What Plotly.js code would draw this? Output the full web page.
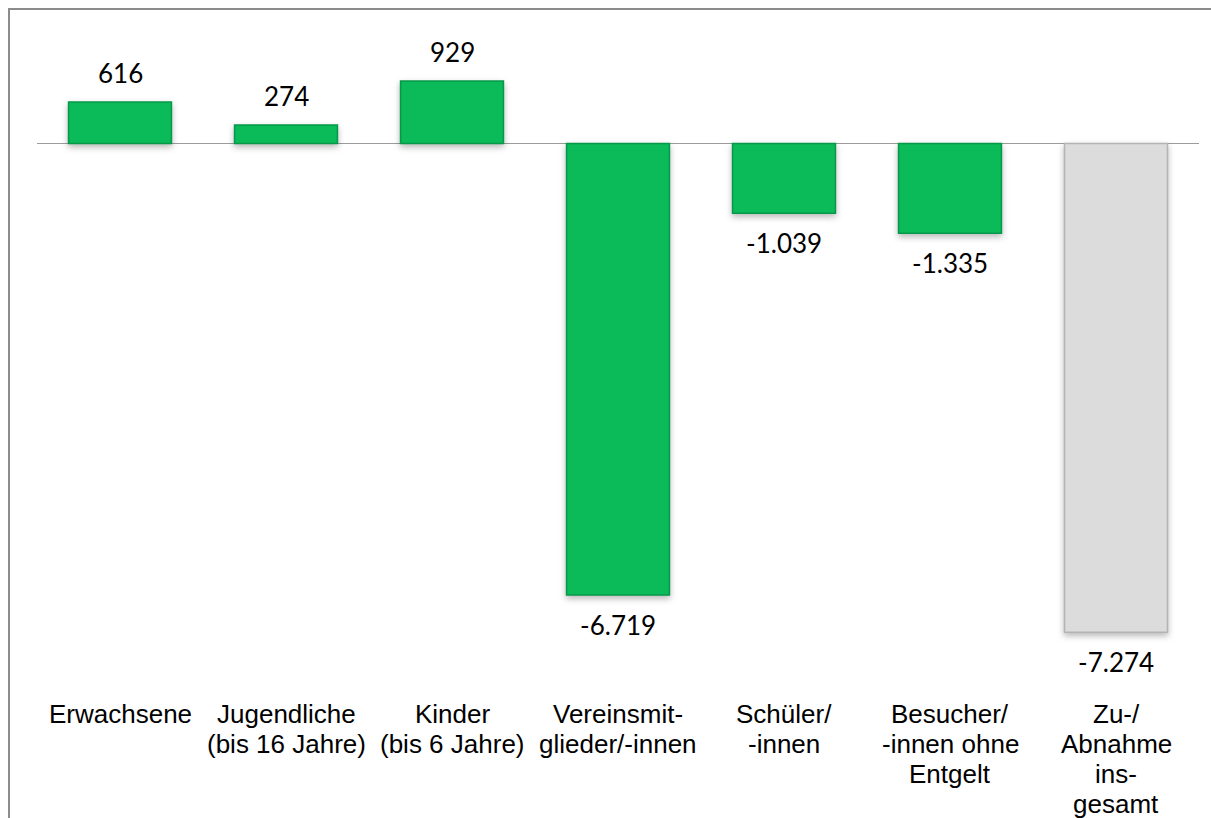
<!DOCTYPE html>
<html>
<head>
<meta charset="utf-8">
<script src="https://cdn.plot.ly/plotly-3.0.1.min.js"></script>
<style>
  html, body { margin: 0; padding: 0; background: #ffffff; }
  #chart { width: 1211px; height: 818px; }
  #chart .bars .point path { filter: drop-shadow(0px 3px 3px rgba(0,0,0,0.28)); }
</style>
</head>
<body>
<div id="chart"></div>
<script>
// ---- data ----
const categories = [
  "Erwachsene",
  "Jugendliche<br>(bis 16 Jahre)",
  "Kinder<br>(bis 6 Jahre)",
  "Vereinsmit-<br>glieder/-innen",
  "Schüler/<br>-innen",
  "Besucher/<br>-innen ohne<br>Entgelt",
  "Zu-/<br>Abnahme<br>ins-<br>gesamt"
];
const values = [616, 274, 929, -6719, -1039, -1335, -7274];

// ---- helpers ----
function fmtDE(v) {
  const s = Math.abs(v).toString().replace(/\B(?=(\d{3})+(?!\d))/g, ".");
  return (v < 0 ? "-" : "") + s;
}

const n = categories.length;
const fillColors = categories.map((c, i) => i === n - 1 ? "#DCDCDC" : "#0BBA58");
const lineColors = categories.map((c, i) => i === n - 1 ? "#B4B4B4" : "#07994A");

const trace = {
  type: "bar",
  x: categories,
  y: values,
  marker: { color: fillColors, line: { color: lineColors, width: 1.5 } },
  hoverinfo: "skip"
};

const annotations = [];
// value labels
values.forEach((v, i) => {
  annotations.push({
    x: categories[i], y: v, xref: "x", yref: "y",
    text: fmtDE(v), showarrow: false,
    yanchor: "middle", xanchor: "center",
    yshift: v >= 0 ? 29 : -30,
    font: { family: "Lato, 'Open Sans', sans-serif", size: 26, color: "#000000" }
  });
});
// category labels (one annotation per line for Word-like line spacing)
categories.forEach((c, i) => {
  c.split("<br>").forEach((line, j) => {
    annotations.push({
      x: c, y: 0, xref: "x", yref: "paper",
      text: line, showarrow: false,
      yanchor: "middle", xanchor: "center",
      yshift: -(14 + 30 * j),
      font: { family: "'Liberation Sans', Arial, sans-serif", size: 26, color: "#000000" }
    });
  });
});

const mL = 37, mR = 12, mT = 20, mB = 118;
const W = 1211, H = 818;
const pw = W - mL - mR, ph = H - mT - mB;
const px2paperX = (px) => (px - mL) / pw;
const px2paperY = (py) => (H - mB - py) / ph;

const layout = {
  width: W, height: H,
  margin: { l: mL, r: mR, t: mT, b: mB, pad: 0 },
  paper_bgcolor: "#ffffff",
  plot_bgcolor: "#ffffff",
  showlegend: false,
  bargap: 0.38,
  xaxis: {
    type: "category",
    range: [-0.5, n - 0.5],
    showticklabels: false, showgrid: false, zeroline: false, showline: false, ticks: ""
  },
  yaxis: {
    range: [-8281, 1838],
    showticklabels: false, showgrid: false, showline: false, ticks: "",
    zeroline: true, zerolinecolor: "#9C9C9C", zerolinewidth: 1.5
  },
  shapes: [{
    type: "rect", xref: "paper", yref: "paper",
    x0: px2paperX(9), x1: px2paperX(1230),
    y0: px2paperY(840), y1: px2paperY(9),
    line: { color: "#8C8C8C", width: 2 },
    fillcolor: "rgba(0,0,0,0)", layer: "above"
  }],
  annotations: annotations
};

Plotly.newPlot("chart", [trace], layout, { displayModeBar: false, staticPlot: true });
</script>
</body>
</html>
